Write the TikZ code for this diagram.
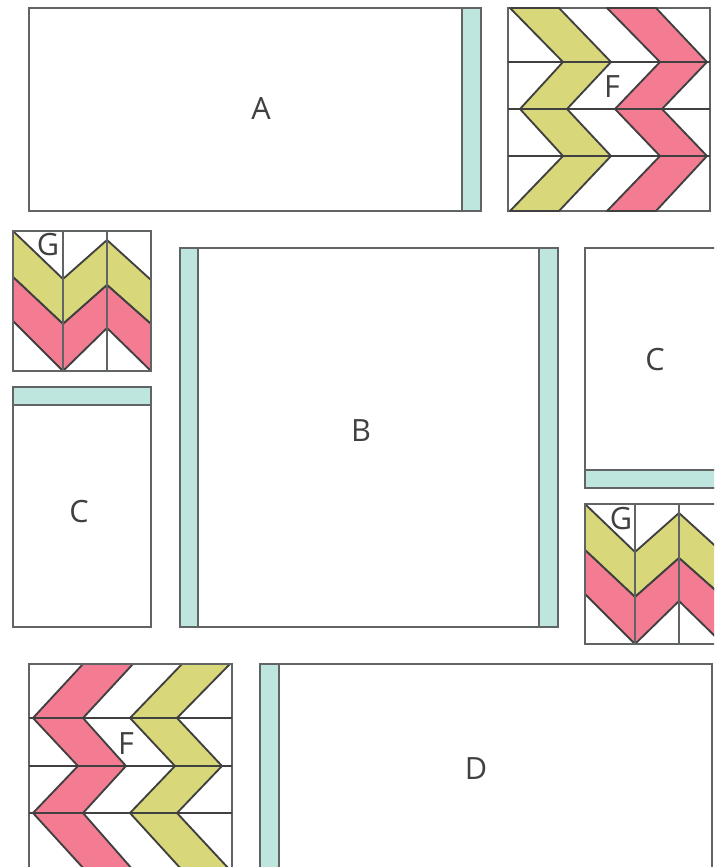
\documentclass[tikz,border=0pt]{standalone}
\usepackage{fontspec}
\setmainfont{Open Sans}
\definecolor{bandteal}{HTML}{BFE5DF}
\definecolor{chevyellow}{HTML}{D8D87A}
\definecolor{chevpink}{HTML}{F37C93}
\definecolor{seamgray}{HTML}{606464}
\tikzset{
  seam/.style={draw=seamgray,line width=1.15pt},
  band/.style={seam,fill=bandteal},
  chevy/.style={draw=black!75,line width=1.4pt,line join=round,fill=chevyellow},
  chevp/.style={draw=black!75,line width=1.4pt,line join=round,fill=chevpink},
  lbl/.style={text=black!75,font=\fontsize{23}{23}\selectfont,inner sep=0pt}
}
\begin{document}
\begin{tikzpicture}[x=0.75pt,y=-0.75pt]
  \useasboundingbox (0,0) rectangle (714,867);
  \clip (0,0) rectangle (714,867);
  % A
  \draw[seam] (29,8) rectangle (481,211);
  \draw[band] (462,8) rectangle (481,211);
  \node[lbl] (labelA) at (261,109) {A};
  % F top right
  \draw[seam] (508,8) rectangle (710,211);
  \foreach \y in {62,109,156}
    \draw[seam,draw=black!75] (508,\y) -- (710,\y);
  \draw[chevy] (510,8) -- (559,8) -- (611,62) -- (567,109) -- (611,156) -- (559,211) -- (510,211) -- (563,156) -- (520,109) -- (563,62) -- cycle;
  \draw[chevp] (607,8) -- (656,8) -- (707,62) -- (662,109) -- (707,156) -- (656,211) -- (607,211) -- (660,156) -- (615,109) -- (660,62) -- cycle;
  \foreach \y in {62,109,156}
    \draw[seam,draw=black!75,line width=0.9pt] (508,\y) -- (710,\y);
  \node[lbl] (labelFa) at (612,87) {F};
  % G left
  \draw[chevy] (13,231) -- (63,279) -- (107,240) -- (151,280) -- (151,324) -- (107,285) -- (63,324) -- (13,277) -- cycle;
  \draw[chevp] (13,277) -- (63,324) -- (107,285) -- (151,324) -- (151,371) -- (107,328) -- (63,371) -- (13,321) -- cycle;
  \draw[seam] (13,231) rectangle (151,371);
  \foreach \x in {63,107}
    \draw[seam] (\x,231) -- (\x,371);
  \node[lbl] (labelGa) at (48,245) {G};
  % C left
  \draw[seam] (13,387) rectangle (151,627);
  \draw[band] (13,387) rectangle (151,405);
  \node[lbl] (labelCa) at (79,512) {C};
  % B
  \draw[seam] (180,248) rectangle (558,627);
  \draw[band] (180,248) rectangle (198,627);
  \draw[band] (539,248) rectangle (558,627);
  \node[lbl] (labelB) at (361,431) {B};
  % C right
  \draw[seam] (585,248) rectangle (730,488);
  \draw[band] (585,470) rectangle (730,488);
  \node[lbl] (labelCb) at (655,360) {C};
  % G right
  \begin{scope}[shift={(572,273)}]
    \draw[chevy] (13,231) -- (63,279) -- (107,240) -- (151,280) -- (151,324) -- (107,285) -- (63,324) -- (13,277) -- cycle;
    \draw[chevp] (13,277) -- (63,324) -- (107,285) -- (151,324) -- (151,371) -- (107,328) -- (63,371) -- (13,321) -- cycle;
    \draw[seam] (13,231) rectangle (151,371);
    \foreach \x in {63,107}
      \draw[seam] (\x,231) -- (\x,371);
    \node[lbl] (labelGb) at (49,246) {G};
  \end{scope}
  % F bottom left
  \draw[chevp] (83,664) -- (133,664) -- (83,718) -- (126,766) -- (83,813) -- (133,870) -- (85,870) -- (33,813) -- (78,766) -- (33,718) -- cycle;
  \draw[chevy] (182,664) -- (230,664) -- (177,718) -- (222,766) -- (177,813) -- (230,870) -- (182,870) -- (130,813) -- (175,766) -- (130,718) -- cycle;
  \draw[seam] (29,664) rectangle (232,880);
  \foreach \y in {718,766,813}
    \draw[seam,draw=black!75] (29,\y) -- (232,\y);
  \node[lbl] (labelFb) at (126,744) {F};
  % D
  \draw[seam] (260,664) rectangle (712,880);
  \draw[band] (260,664) rectangle (279,880);
  \node[lbl] (labelD) at (476,769) {D};
\end{tikzpicture}
\end{document}
